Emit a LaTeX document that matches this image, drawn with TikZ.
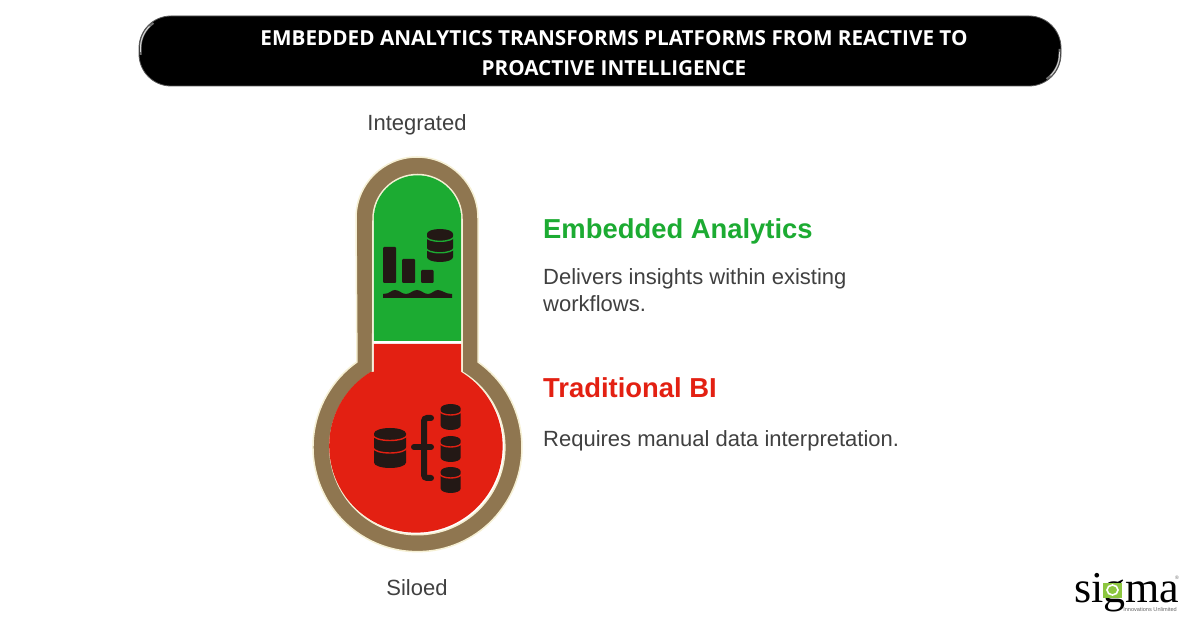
\documentclass[tikz,border=0pt]{standalone}
\usepackage{fontspec}
\setmainfont{Liberation Sans}
\newfontfamily\titlefont{Open Sans}
\newfontfamily\logofont{Liberation Serif}
\definecolor{tubegreen}{HTML}{1CAB32}
\definecolor{tubered}{HTML}{E32012}
\definecolor{tubebrown}{HTML}{8F7650}
\definecolor{tubecream}{HTML}{F6F0D4}
\definecolor{iconblack}{HTML}{231815}
\definecolor{bodygray}{HTML}{404040}
\definecolor{logogreen}{HTML}{8CC63F}
\tikzset{
  bodytext/.style={anchor=west,inner sep=0pt,text=bodygray,font=\fontsize{22}{26}\selectfont},
  headtext/.style={anchor=west,inner sep=0pt,font=\fontsize{27.4}{32}\selectfont\bfseries},
  endlabel/.style={inner sep=0pt,text=bodygray,font=\fontsize{22}{26}\selectfont},
  iconfill/.style={fill=iconblack},
}
% x, top, bottom, rx, ry, background, band heights
\newcommand{\dbicon}[7]{%
  \fill[iconfill] (#1-#4,#2-#5) arc[start angle=180,end angle=0,x radius=#4,y radius=#5]
    -- (#1+#4,#3+#5) arc[start angle=0,end angle=-180,x radius=#4,y radius=#5] -- cycle;
  \foreach \bandy in {#7}
    \draw[#6,line width=1.4pt] (#1-#4-1,\bandy) arc[start angle=180,end angle=360,x radius=#4+1,y radius=#5];
}
\begin{document}
\begin{tikzpicture}[x=1pt,y=1pt]
  \useasboundingbox (0,0) rectangle (1200,627);
  \fill[white] (0,0) rectangle (1200,627);

  % Title
  \node[fill=black,draw=black!65,line width=0.8pt,rounded corners=32pt,minimum width=922pt,minimum height=70pt,inner sep=0pt] (titlebar) at (600,576) {};
  \draw[black!55,line width=2pt] (140.5,572) -- (140.5,579) arc[start angle=180,end angle=125,radius=30.5];
  \draw[white!85!black,line width=0.9pt] (140.5,575) -- (140.5,579) arc[start angle=180,end angle=135,radius=30.5];
  \draw[black!55,line width=2pt] (1059.5,578) -- (1059.5,573) arc[start angle=0,end angle=-55,radius=30.5];
  \draw[white!85!black,line width=0.9pt] (1059.5,575) -- (1059.5,573) arc[start angle=0,end angle=-45,radius=30.5];
  \node[align=center,inner sep=0pt,text=white,font=\fontsize{20.7}{30}\selectfont\titlefont\bfseries] (titletext) at (614,573.5) {EMBEDDED ANALYTICS TRANSFORMS PLATFORMS FROM REACTIVE TO\\PROACTIVE INTELLIGENCE};

  % Thermometer
  \filldraw[fill=tubebrown,draw=tubecream,line width=1.5pt]
    (356,409) arc[start angle=180,end angle=0,radius=61] -- (478,265)
    arc[start angle=54.6,end angle=-234.6,radius=104.5] -- cycle;
  \filldraw[fill=white,draw=tubecream,line width=1.5pt]
    (373,408) arc[start angle=180,end angle=0,radius=44.5] -- (462,255)
    arc[start angle=59.3,end angle=-239.3,radius=87.5] -- cycle;
  \fill[tubegreen] (373.8,408) arc[start angle=180,end angle=0,radius=43.7] -- (461.2,286) -- (373.8,286) -- cycle;
  \fill[tubered] (373.8,283) -- (461.2,283) -- (461.2,255)
    arc[start angle=58.5,end angle=-238.5,radius=86.7] -- (373.8,255) -- cycle;

  % Upper icon
  \fill[iconfill,rounded corners=1pt] (383,344) rectangle (396,380);
  \fill[iconfill,rounded corners=1pt] (402,344) rectangle (415,368);
  \fill[iconfill,rounded corners=1pt] (421,344) rectangle (433.5,357);
  \fill[iconfill] (383,329) -- (383,333) .. controls (390,333) and (391,337) .. (395,337)
    .. controls (399,337) and (402,333) .. (406,333) .. controls (410,333) and (413,337) .. (417,337)
    .. controls (421,337) and (424,333) .. (428,333) .. controls (432,333) and (434,337) .. (438,337)
    .. controls (442,337) and (445,333) .. (452,333) -- (452,329) -- cycle;
  \dbicon{440}{398}{365}{13}{4.8}{tubegreen}{390.5,379}

  % Lower icon
  \dbicon{390}{199}{159}{16}{5.5}{tubered}{192,179.5}
  \foreach \dbtop in {223,191,160}
    \dbicon{450.7}{\dbtop}{\dbtop-26}{10}{4.5}{tubered}{\dbtop-6.5};
  \draw[iconblack,line width=6pt,line cap=round,rounded corners=3pt] (431,209) -- (424,209) -- (424,149) -- (431,149);
  \draw[iconblack,line width=6pt,line cap=round] (414,180) -- (431,180);

  % Labels
  \node[endlabel] (integrated) at (417,502) {Integrated};
  \node[endlabel] (siloed) at (417,39) {Siloed};
  \node[headtext,text=tubegreen] (embedded) at (543,396) {Embedded Analytics};
  \node[bodytext] (delivers) at (543,348.5) {Delivers insights within existing};
  \node[bodytext] (workflows) at (543,323) {workflows.};
  \node[headtext,text=tubered] (traditional) at (543,239) {Traditional BI};
  \node[bodytext] (requires) at (543,186.5) {Requires manual data interpretation.};

  % Logo
  \node[anchor=base west,inner sep=0pt,text=black,font=\fontsize{44}{44}\selectfont\logofont] (sigmaword) at (1074,25) {sigma};
  \fill[logogreen] (1103,29.5) rectangle (1122,44.5);
  \draw[white,line width=1.6pt] (1112.5,37) ellipse (5.5 and 5);
  \node[anchor=east,inner sep=0pt,text=black!60,font=\fontsize{5.6}{6}\selectfont] (sigmatag) at (1177,18) {Innovations Unlimited};
  \node[inner sep=0pt,text=black!60,font=\fontsize{5}{5}\selectfont] (sigmareg) at (1177,49) {®};
\end{tikzpicture}
\end{document}
